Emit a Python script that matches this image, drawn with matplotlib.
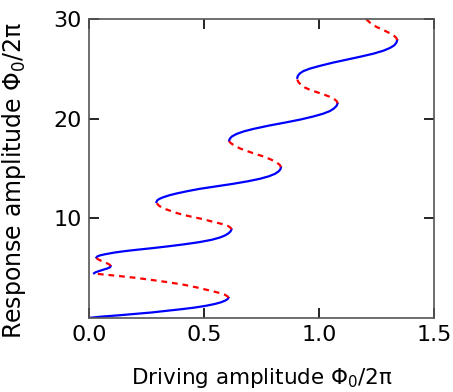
import numpy as np
import matplotlib
matplotlib.use('Agg')
import matplotlib.pyplot as plt

# 读图得到的各分支 (driving x, response y)
# 稳定分支 (蓝色实线)
stable_x = [
    [0.0, 0.055, 0.13, 0.2, 0.275, 0.345, 0.405, 0.461, 0.51, 0.548, 0.575, 0.593, 0.603, 0.607],
    [0.023, 0.03, 0.045, 0.065, 0.083, 0.093, 0.095],
    [0.033, 0.038, 0.05, 0.07, 0.11, 0.157, 0.215, 0.273, 0.345, 0.417, 0.48, 0.533, 0.568, 0.591,
     0.607, 0.616, 0.62],
    [0.294, 0.297, 0.305, 0.323, 0.35, 0.381, 0.43, 0.483, 0.555, 0.627, 0.69, 0.743, 0.782, 0.809,
     0.825, 0.833, 0.835],
    [0.61, 0.613, 0.622, 0.642, 0.675, 0.714, 0.785, 0.859, 0.92, 0.975, 1.018, 1.048, 1.066, 1.077,
     1.081],
    [0.906, 0.909, 0.917, 0.932, 0.96, 1.004, 1.06, 1.12, 1.18, 1.236, 1.28, 1.309, 1.328, 1.337, 1.34],
]
stable_y = [
    [0.0, 0.13, 0.26, 0.40, 0.55, 0.73, 0.88, 1.04, 1.22, 1.40, 1.57, 1.74, 1.88, 2.02],
    [4.48, 4.58, 4.7, 4.85, 4.98, 5.1, 5.2],
    [6.05, 6.18, 6.28, 6.38, 6.55, 6.7, 6.85, 6.99, 7.18, 7.39, 7.6, 7.83, 8.05, 8.26,
     8.48, 8.68, 8.88],
    [11.62, 11.78, 11.92, 12.1, 12.3, 12.48, 12.72, 12.95, 13.2, 13.45, 13.7, 13.95, 14.2, 14.45,
     14.7, 14.92, 15.12],
    [17.78, 17.98, 18.2, 18.45, 18.72, 18.95, 19.3, 19.62, 19.9, 20.2, 20.48, 20.75, 21.02, 21.28,
     21.52],
    [24.08, 24.3, 24.52, 24.75, 25.0, 25.28, 25.6, 25.9, 26.2, 26.5, 26.8, 27.08, 27.35, 27.62, 27.88],
]

# 不稳定分支 (红色虚线)
unstable_x = [
    [0.607, 0.603, 0.592, 0.562, 0.52, 0.47, 0.417, 0.345, 0.273, 0.2, 0.127, 0.085, 0.052, 0.032, 0.023],
    [0.095, 0.092, 0.08, 0.062, 0.045, 0.036, 0.033],
    [0.62, 0.616, 0.605, 0.585, 0.562, 0.53, 0.497, 0.457, 0.417, 0.385, 0.36, 0.335, 0.315, 0.303,
     0.297, 0.294],
    [0.835, 0.83, 0.816, 0.79, 0.758, 0.72, 0.686, 0.66, 0.64, 0.622, 0.613, 0.61],
    [1.081, 1.077, 1.065, 1.045, 1.02, 0.99, 0.961, 0.938, 0.922, 0.912, 0.907, 0.906],
    [1.34, 1.336, 1.325, 1.309, 1.285, 1.251, 1.225, 1.204],
]
unstable_y = [
    [2.02, 2.16, 2.32, 2.54, 2.78, 3.05, 3.31, 3.58, 3.81, 4.03, 4.21, 4.31, 4.38, 4.43, 4.48],
    [5.2, 5.32, 5.47, 5.64, 5.82, 5.95, 6.05],
    [8.88, 9.05, 9.22, 9.38, 9.52, 9.7, 9.9, 10.1, 10.3, 10.5, 10.7, 10.9, 11.1, 11.3,
     11.47, 11.62],
    [15.12, 15.35, 15.6, 15.9, 16.2, 16.48, 16.75, 16.97, 17.2, 17.45, 17.62, 17.78],
    [21.52, 21.75, 21.98, 22.2, 22.42, 22.65, 22.88, 23.12, 23.38, 23.62, 23.85, 24.08],
    [27.88, 28.1, 28.32, 28.55, 28.82, 29.18, 29.55, 30.0],
]

x_ticks = [0.0, 0.5, 1.0, 1.5]
x_tick_labels = ['0.0', '0.5', '1.0', '1.5']
y_ticks = [10, 20, 30]

fig = plt.figure(figsize=(4.53, 3.92), dpi=100)
ax = fig.add_axes([0.196, 0.189, 0.762, 0.763])

for xs, ys in zip(stable_x, stable_y):
    ax.plot(xs, ys, color='blue', linewidth=1.6, solid_joinstyle='round')
for xs, ys in zip(unstable_x, unstable_y):
    ax.plot(xs, ys, color='red', linewidth=1.6, linestyle=(0, (2.6, 2.2)))

ax.set_xlim(0, 1.5)
ax.set_ylim(0, 30)
ax.set_xticks(x_ticks)
ax.set_xticklabels(x_tick_labels)
ax.set_yticks(y_ticks)
ax.tick_params(direction='in', length=7, width=1.2, labelsize=16,
               top=True, right=True, pad=5)
for s in ax.spines.values():
    s.set_color('#555555')
    s.set_linewidth(1.2)

ax.set_xlabel('Driving amplitude Φ$_0$/2π', fontsize=15.5, labelpad=15)
ax.set_ylabel('Response amplitude Φ$_0$/2π', fontsize=17)
ax.yaxis.set_label_coords(-0.175, 0.46)

plt.savefig('out.png', dpi=100)
